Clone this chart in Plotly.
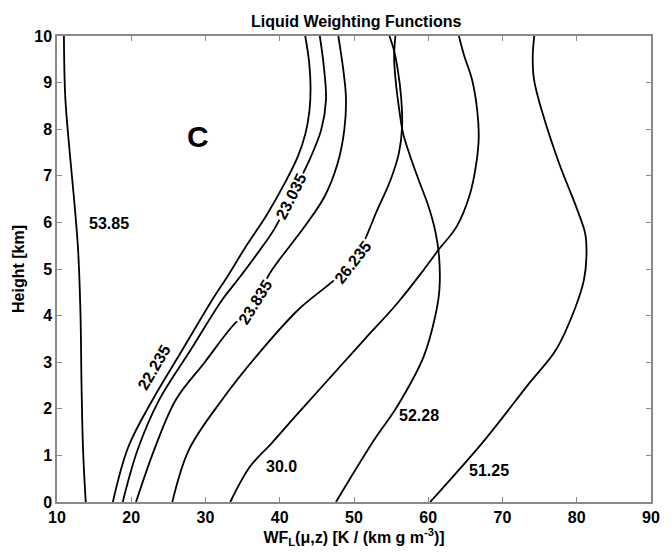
import plotly.graph_objects as go

# Curves: (WF values, heights)
ch_22235_x = [17.52, 19.60, 22.86, 26.87, 30.87, 33.00, 35.50, 38.20, 40.80, 42.40, 43.45, 44.00, 44.15, 43.95, 43.43]
ch_22235_y = [0.00, 1.18, 2.19, 3.26, 4.33, 4.85, 5.50, 6.15, 6.88, 7.40, 7.90, 8.40, 8.90, 9.45, 10.0]

ch_23035_x = [18.85, 20.86, 23.76, 27.99, 32.21, 34.50, 37.34, 39.20, 41.60, 43.80, 45.57, 46.23, 45.89, 45.39]
ch_23035_y = [0.00, 1.12, 2.19, 3.26, 4.33, 4.80, 5.41, 5.84, 6.57, 7.27, 7.98, 8.63, 9.41, 10.0]

ch_23835_x = [20.64, 23.09, 25.99, 29.90, 33.55, 36.67, 38.67, 43.35, 46.02, 47.80, 48.69, 48.91, 47.89]
ch_23835_y = [0.00, 1.12, 2.19, 3.00, 3.76, 4.28, 4.91, 5.91, 6.55, 7.27, 7.98, 8.70, 10.0]

ch_26235_x = [25.53, 27.76, 32.21, 37.55, 42.45, 49.80, 53.14, 54.92, 56.04, 56.48, 56.34, 55.90, 55.37, 54.78]
ch_26235_y = [0.00, 1.12, 2.19, 3.26, 4.12, 5.15, 6.27, 6.91, 7.48, 8.05, 8.70, 9.27, 9.70, 10.0]

ch_30_x = [33.33, 36.00, 38.89, 42.45, 46.90, 51.36, 55.81, 59.38, 61.38, 63.82, 65.60, 66.50, 66.80, 66.60, 65.90, 64.80, 64.13]
ch_30_y = [0.00, 0.76, 1.26, 1.90, 2.69, 3.48, 4.26, 4.98, 5.41, 5.91, 6.60, 7.30, 7.84, 8.40, 9.06, 9.60, 10.0]

ch_5228_x = [47.57, 52.70, 55.81, 59.38, 60.93, 61.50, 61.46, 61.00, 60.04, 58.71, 57.59, 56.61, 56.10, 55.60, 55.40, 55.58]
ch_5228_y = [0.00, 1.33, 2.05, 3.12, 3.98, 4.55, 5.26, 5.77, 6.34, 6.91, 7.41, 7.91, 8.41, 9.06, 9.56, 10.0]

ch_5125_x = [60.26, 67.39, 73.61, 77.18, 79.85, 80.96, 81.30, 81.15, 80.00, 77.62, 75.40, 74.25, 74.07, 74.28]
ch_5125_y = [0.00, 1.29, 2.55, 3.26, 4.19, 4.76, 5.25, 5.75, 6.30, 7.27, 8.34, 9.06, 9.56, 10.0]

ch_5385_x = [13.87, 13.51, 13.30, 13.17, 12.84, 12.27, 11.64, 11.11, 10.93]
ch_5385_y = [0.00, 1.12, 2.55, 3.98, 5.41, 6.55, 7.63, 8.70, 10.0]

curves = [
    (ch_22235_x, ch_22235_y), (ch_23035_x, ch_23035_y), (ch_23835_x, ch_23835_y),
    (ch_26235_x, ch_26235_y), (ch_30_x, ch_30_y), (ch_5228_x, ch_5228_y),
    (ch_5125_x, ch_5125_y), (ch_5385_x, ch_5385_y),
]

# Contour-style labels: text, x, y, angle, inline (gap in curve)
label_text = ["53.85", "22.235", "23.035", "23.835", "26.235", "30.0", "52.28", "51.25"]
label_x = [16.95, 23.09, 41.55, 36.67, 49.80, 40.25, 58.82, 68.16]
label_y = [5.98, 2.88, 6.55, 4.28, 5.15, 0.76, 1.86, 0.68]
label_angle = [0, -60, -63, -58, -52, 0, 0, 0]
label_inline = [False, False, True, True, True, False, False, False]

x_ticks = [10, 20, 30, 40, 50, 60, 70, 80, 90]
y_ticks = [0, 1, 2, 3, 4, 5, 6, 7, 8, 9, 10]

FONT = "Liberation Sans, Arial, sans-serif"

fig = go.Figure()
for cx, cy in curves:
    fig.add_trace(go.Scatter(x=cx, y=cy, mode="lines",
                             line=dict(color="black", width=1.8, shape="spline", smoothing=1.0),
                             showlegend=False, hoverinfo="skip"))

for t, lx, ly, ang, inl in zip(label_text, label_x, label_y, label_angle, label_inline):
    kw = dict(bgcolor="white") if inl else {}
    fig.add_annotation(x=lx, y=ly, text=f"<b>{t}</b>", showarrow=False, textangle=ang,
                       font=dict(family=FONT, size=16, color="black"), borderpad=1, **kw)

fig.add_annotation(x=28.97, y=7.85, text="<b>C</b>", showarrow=False,
                   font=dict(family=FONT, size=30, color="black"))

axis_common = dict(showgrid=False, zeroline=False, showline=True, linecolor="#8a8a8a", linewidth=1.5,
                   mirror="ticks", ticks="inside", ticklen=5, tickcolor="#8a8a8a",
                   tickfont=dict(family=FONT, size=16, color="black"))

fig.update_xaxes(range=[10, 90], tickvals=x_ticks, ticktext=[f"<b>{v}</b>" for v in x_ticks],
                 title=dict(text="<b>WF<sub>L</sub>(μ,z) [K / (km g m<sup>-3</sup>)]</b>",
                            font=dict(family=FONT, size=16, color="black"), standoff=6),
                 **axis_common)
fig.update_yaxes(range=[0, 10], tickvals=y_ticks, ticktext=[f"<b>{v}</b>" for v in y_ticks],
                 title=dict(text="<b>Height [km]</b>", font=dict(family=FONT, size=16, color="black"),
                            standoff=6),
                 **axis_common)

fig.update_layout(
    width=672, height=558,
    margin=dict(l=57, r=16, t=36, b=56),
    paper_bgcolor="white", plot_bgcolor="white",
    title=dict(text="<b>Liquid Weighting Functions</b>", x=0.53, xanchor="center", y=0.962, yanchor="middle",
               font=dict(family=FONT, size=16, color="black")),
)

fig.write_html("out.html")
